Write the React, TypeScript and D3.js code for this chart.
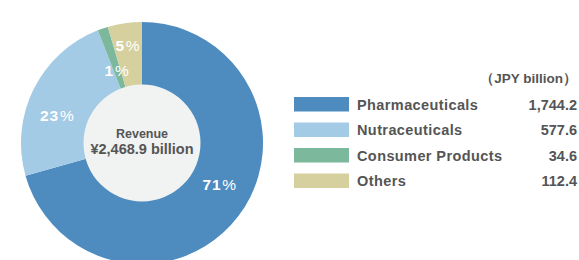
import React from "react";
import * as d3 from "d3";

// segments, clockwise from 12 o'clock
const categories = ["Pharmaceuticals", "Nutraceuticals", "Consumer Products", "Others"];
const revenue = [1744.2, 577.6, 34.6, 112.4];
const valueLabels = ["1,744.2", "577.6", "34.6", "112.4"];
const pctLabels = ["71", "23", "1", "5"];
const colors = ["#4e8cbf", "#a3cbe5", "#7bb89c", "#d6cf9e"];
const centerLines = ["Revenue", "¥2,468.9 billion"];
const unitLabel = "（JPY billion）";

const W = 579;
const H = 260;
const FONT = "'Liberation Sans', Arial, sans-serif";
const GREY = "#555555";

// label placement for each slice (radius, angle nudge in radians)
const labelPos = [
  { r: 88, shift: -0.16 },
  { r: 89, shift: -0.15 },
  { r: 77, shift: 0 },
  { r: 99, shift: 0 },
];

export default function App() {
  const cx = 142;
  const cy = 143;
  const outerR = 121;
  const innerR = 58.5;

  const pie = d3.pie<number>().sort(null).value((d) => d);
  const arcs = pie(revenue);
  const arc = d3.arc<d3.PieArcDatum<number>>().innerRadius(0).outerRadius(outerR);

  const legendX = 294;
  const legendY = 97;
  const rowStep = 25.5;
  const rightX = 577;

  return (
    <svg
      width={W}
      height={H}
      style={{ position: "fixed", left: 0, top: 0, background: "#ffffff" }}
      fontFamily={FONT}
    >
      <g transform={`translate(${cx},${cy})`}>
        {arcs.map((a, i) => (
          <path key={i} d={arc(a) || ""} fill={colors[i]} />
        ))}
        <circle r={innerR} fill="#f1f2f2" />
        {arcs.map((a, i) => {
          const mid = (a.startAngle + a.endAngle) / 2 + labelPos[i].shift;
          const x = Math.sin(mid) * labelPos[i].r;
          const y = -Math.cos(mid) * labelPos[i].r;
          return (
            <text
              key={i}
              x={x}
              y={y}
              dy="0.36em"
              textAnchor="middle"
              fill="#ffffff"
              fontSize={15.5}
              fontWeight="bold"
              letterSpacing={0.8}
            >
              {pctLabels[i]}
              <tspan dx={1} fontWeight="normal">%</tspan>
            </text>
          );
        })}
        <text y={-5.5} textAnchor="middle" fill={GREY} fontSize={12.5} fontWeight="bold">
          {centerLines[0]}
        </text>
        <text y={10.5} textAnchor="middle" fill={GREY} fontSize={14.5} fontWeight="bold">
          {centerLines[1]}
        </text>
      </g>

      <text x={rightX} y={83} textAnchor="end" fill={GREY} fontSize={13.5} fontWeight="bold">
        {unitLabel}
      </text>
      {categories.map((c, i) => {
        const y = legendY + i * rowStep;
        return (
          <g key={c}>
            <rect x={legendX} y={y} width={55} height={14.5} fill={colors[i]} />
            <text x={357} y={y + 12.5} fill={GREY} fontSize={14.5} fontWeight="bold" letterSpacing={0.4}>
              {c}
            </text>
            <text x={rightX} y={y + 12.5} textAnchor="end" fill={GREY} fontSize={14.5} fontWeight="bold">
              {valueLabels[i]}
            </text>
          </g>
        );
      })}
    </svg>
  );
}
